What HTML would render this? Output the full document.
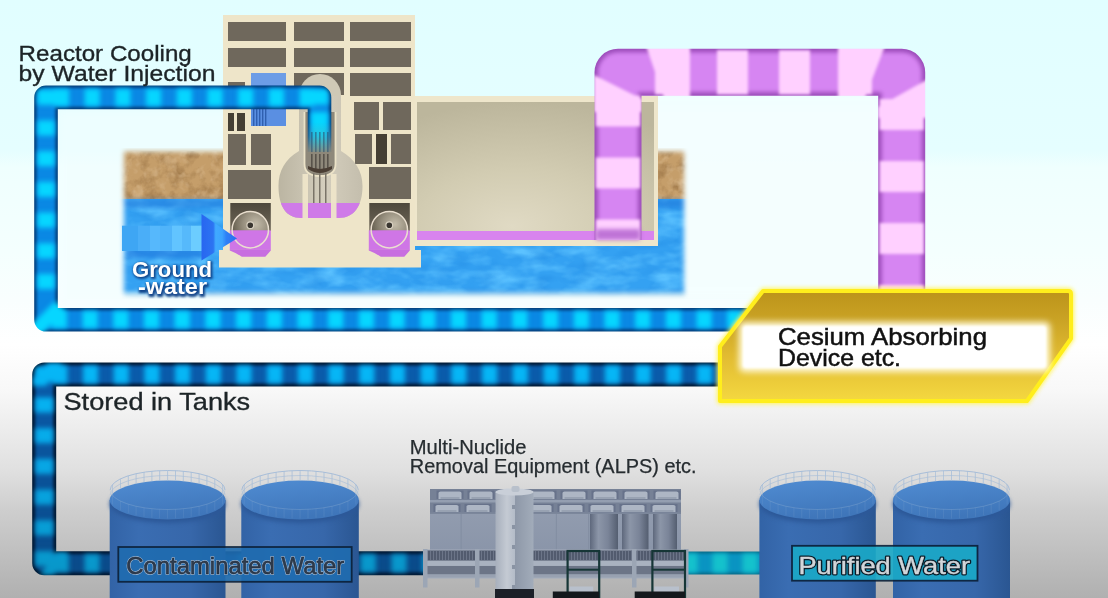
<!DOCTYPE html>
<html><head><meta charset="utf-8"><title>Contaminated Water Treatment</title>
<style>
html,body{margin:0;padding:0;width:1108px;height:598px;overflow:hidden;background:#e8f8fa;}
svg{display:block;font-family:"Liberation Sans", sans-serif;}
</style></head>
<body>
<svg width="1108" height="598" viewBox="0 0 1108 598">
<defs>
<linearGradient id="bg" x1="0" y1="0" x2="0" y2="1">
 <stop offset="0" stop-color="#e1feff"/>
 <stop offset="0.25" stop-color="#e5feff"/>
 <stop offset="0.28" stop-color="#effffe"/>
 <stop offset="0.42" stop-color="#f4fffe"/>
 <stop offset="0.502" stop-color="#f9fefe"/>
 <stop offset="0.577" stop-color="#ffffff"/>
 <stop offset="0.652" stop-color="#f8f8f8"/>
 <stop offset="0.719" stop-color="#ececec"/>
 <stop offset="0.786" stop-color="#e0e0e0"/>
 <stop offset="0.853" stop-color="#cecece"/>
 <stop offset="1" stop-color="#b0b0b0"/>
</linearGradient>
<filter id="b1" x="-20%" y="-20%" width="140%" height="140%"><feGaussianBlur stdDeviation="1"/></filter>
<filter id="b2" x="-20%" y="-20%" width="140%" height="140%"><feGaussianBlur stdDeviation="2"/></filter>
<filter id="b3" x="-20%" y="-20%" width="140%" height="140%"><feGaussianBlur stdDeviation="3"/></filter>
<filter id="b5" x="-20%" y="-20%" width="140%" height="140%"><feGaussianBlur stdDeviation="5"/></filter>
<filter id="soiltex" x="0" y="0" width="100%" height="100%" color-interpolation-filters="sRGB">
 <feTurbulence type="fractalNoise" baseFrequency="0.07" numOctaves="4" seed="4"/>
 <feColorMatrix type="matrix" values="0 0 0 0 0.60  0 0 0 0 0.45  0 0 0 0 0.27  -2.0 0 0 0 1.1"/>
 <feComposite in2="SourceGraphic" operator="in"/>
</filter>
<filter id="soiltex2" x="0" y="0" width="100%" height="100%" color-interpolation-filters="sRGB">
 <feTurbulence type="fractalNoise" baseFrequency="0.09" numOctaves="3" seed="9"/>
 <feColorMatrix type="matrix" values="0 0 0 0 0.86  0 0 0 0 0.74  0 0 0 0 0.58  1.8 0 0 0 -0.9"/>
 <feComposite in2="SourceGraphic" operator="in"/>
</filter>
<filter id="watertex" x="0" y="0" width="100%" height="100%" color-interpolation-filters="sRGB">
 <feTurbulence type="fractalNoise" baseFrequency="0.035 0.07" numOctaves="3" seed="11"/>
 <feColorMatrix type="matrix" values="0 0 0 0 0.36  0 0 0 0 0.76  0 0 0 0 1  2.2 0 0 0 -0.85"/>
 <feComposite in2="SourceGraphic" operator="in"/>
</filter>
<filter id="watertex2" x="0" y="0" width="100%" height="100%" color-interpolation-filters="sRGB">
 <feTurbulence type="fractalNoise" baseFrequency="0.04 0.08" numOctaves="2" seed="5"/>
 <feColorMatrix type="matrix" values="0 0 0 0 0.10  0 0 0 0 0.50  0 0 0 0 0.86  -1.4 0 0 0 0.80"/>
 <feComposite in2="SourceGraphic" operator="in"/>
</filter>
<mask id="groundMask" maskUnits="userSpaceOnUse" x="0" y="0" width="1108" height="598">
 <rect x="124" y="151.5" width="560" height="142" fill="#fff" style="filter:blur(2.4px)"/>
</mask>
<linearGradient id="tankBody" x1="0" y1="0" x2="1" y2="0">
 <stop offset="0" stop-color="#3263a6"/>
 <stop offset="0.25" stop-color="#3a6db2"/>
 <stop offset="0.7" stop-color="#3767aa"/>
 <stop offset="1" stop-color="#2a5692"/>
</linearGradient>
<linearGradient id="tankTop" x1="0" y1="0" x2="0.3" y2="1">
 <stop offset="0" stop-color="#508cd2"/>
 <stop offset="1" stop-color="#3f76ba"/>
</linearGradient>
<linearGradient id="yel" x1="0" y1="0" x2="0" y2="1">
 <stop offset="0" stop-color="#bc931a"/>
 <stop offset="0.25" stop-color="#c9a224"/>
 <stop offset="0.6" stop-color="#e2bc32"/>
 <stop offset="1" stop-color="#f4d840"/>
</linearGradient>
<radialGradient id="turb" cx="0.45" cy="0.95" r="0.95" fx="0.4" fy="0.9">
 <stop offset="0" stop-color="#e0dac4"/>
 <stop offset="0.45" stop-color="#d2ccb2"/>
 <stop offset="1" stop-color="#bcb69c"/>
</radialGradient>
<linearGradient id="alps" x1="0" y1="0" x2="0" y2="1">
 <stop offset="0" stop-color="#96a0b2"/>
 <stop offset="1" stop-color="#8a95a9"/>
</linearGradient>
<linearGradient id="col" x1="0" y1="0" x2="1" y2="0">
 <stop offset="0" stop-color="#a7afbc"/>
 <stop offset="0.3" stop-color="#c4cad3"/>
 <stop offset="0.5" stop-color="#b4bcc8"/>
 <stop offset="0.52" stop-color="#8e98a8"/>
 <stop offset="1" stop-color="#a2acba"/>
</linearGradient>
<linearGradient id="cyl" x1="0" y1="0" x2="1" y2="0">
 <stop offset="0" stop-color="#5e687c"/>
 <stop offset="0.3" stop-color="#8c96a8"/>
 <stop offset="0.65" stop-color="#7a8498"/>
 <stop offset="1" stop-color="#545e70"/>
</linearGradient>
<linearGradient id="arrowHead" x1="0" y1="0" x2="1" y2="0">
 <stop offset="0" stop-color="#2866f0"/>
 <stop offset="0.33" stop-color="#2c74f2"/>
 <stop offset="0.4" stop-color="#40aaff"/>
 <stop offset="0.58" stop-color="#3ca4ff"/>
 <stop offset="0.7" stop-color="#2e80f6"/>
 <stop offset="1" stop-color="#2a6cf2"/>
</linearGradient>
<linearGradient id="bulb" x1="0" y1="0" x2="1" y2="0">
 <stop offset="0" stop-color="#bbb5a2"/>
 <stop offset="0.55" stop-color="#d4cebd"/>
 <stop offset="1" stop-color="#c4bead"/>
</linearGradient>
<linearGradient id="torRoom" x1="0" y1="0" x2="0" y2="1">
 <stop offset="0" stop-color="#4e483c"/>
 <stop offset="1" stop-color="#6e6658"/>
</linearGradient>
<radialGradient id="torCone" cx="0.65" cy="0.35" r="0.7">
 <stop offset="0" stop-color="#c4bcaa"/>
 <stop offset="0.5" stop-color="#978f7e"/>
 <stop offset="1" stop-color="#5e5748"/>
</radialGradient>
<linearGradient id="llLight" gradientUnits="userSpaceOnUse" x1="0" y1="362" x2="0" y2="576">
 <stop offset="0" stop-color="#06b8f8"/>
 <stop offset="0.5" stop-color="#07a6e4"/>
 <stop offset="1" stop-color="#0896c8"/>
</linearGradient>
<linearGradient id="llMid" gradientUnits="userSpaceOnUse" x1="0" y1="362" x2="0" y2="576">
 <stop offset="0" stop-color="#0a5cac"/>
 <stop offset="1" stop-color="#0a4a88"/>
</linearGradient>
<linearGradient id="pipeFade" x1="0" y1="0" x2="0" y2="1">
 <stop offset="0" stop-color="#8e887a" stop-opacity="0"/>
 <stop offset="0.45" stop-color="#8e887a" stop-opacity="0.25"/>
 <stop offset="1" stop-color="#8e887a" stop-opacity="1"/>
</linearGradient>
<clipPath id="bulbClip"><path d="M299,96 L299,151 C285,159 278.5,171 278.5,186 C278.5,206 286,218 301,218 L339,218 C354,218 362.5,206 362.5,186 C362.5,171 355,159 341,151 L341,96 Z"/></clipPath>
</defs>
<rect x="0" y="0" width="1108" height="598" fill="url(#bg)"/>
<rect x="57" y="109" width="830" height="200" fill="#f3feff" opacity="0.6" style="filter:blur(4px)"/>
<rect x="640" y="94" width="240" height="200" fill="#f5ffff" opacity="0.8" style="filter:blur(3px)"/>
<g mask="url(#groundMask)">
<rect x="118" y="148" width="572" height="54" fill="#c59e6a"/>
<rect x="118" y="151" width="572" height="48" fill="#fff" filter="url(#soiltex)"/>
<rect x="118" y="151" width="572" height="48" fill="#fff" filter="url(#soiltex2)"/>
<rect x="118" y="199" width="572" height="100" fill="#34a1f2"/>
<rect x="118" y="199" width="572" height="100" fill="#fff" filter="url(#watertex)"/>
<rect x="118" y="199" width="572" height="100" fill="#fff" filter="url(#watertex2)" opacity="0.5"/>
<rect x="118" y="199" width="572" height="9" fill="#1f74d8" opacity="0.45" style="filter:blur(2px)"/>
</g>
<rect x="125" y="292" width="560" height="4" fill="#8fb8d0" opacity="0.25" style="filter:blur(2px)"/>
<rect x="414" y="96" width="244" height="150" fill="#eee6cb"/>
<rect x="417" y="102" width="237" height="138" fill="url(#turb)"/>
<rect x="417" y="231" width="237" height="9" fill="#d884ee"/>
<rect x="223" y="15" width="192" height="236" fill="#eee5c9"/>
<rect x="219" y="250" width="202" height="17.5" fill="#eee5c9"/>
<rect x="228" y="22" width="58" height="19" fill="#6f685c"/>
<rect x="294" y="22" width="50" height="19" fill="#6f685c"/>
<rect x="350" y="22" width="61" height="19" fill="#6f685c"/>
<rect x="228" y="48" width="58" height="19" fill="#6f685c"/>
<rect x="294" y="48" width="50" height="19" fill="#6f685c"/>
<rect x="350" y="48" width="61" height="19" fill="#6f685c"/>
<rect x="294" y="73" width="50" height="22" fill="#6f685c"/>
<rect x="350" y="73" width="61" height="23" fill="#6f685c"/>
<rect x="354" y="102" width="25" height="28" fill="#6f685c"/>
<rect x="383" y="102" width="28" height="28" fill="#6f685c"/>
<rect x="228" y="82" width="17" height="4" fill="#6f685c"/>
<rect x="228" y="113" width="6" height="18" fill="#6f685c"/>
<rect x="237" y="113" width="8" height="18" fill="#6f685c"/>
<rect x="228" y="134" width="18" height="31" fill="#6f685c"/>
<rect x="251" y="134" width="20" height="31" fill="#6f685c"/>
<rect x="228" y="170" width="43" height="29" fill="#6f685c"/>
<rect x="355" y="134" width="17" height="30" fill="#6f685c"/>
<rect x="376" y="134" width="11" height="30" fill="#6f685c"/>
<rect x="391" y="134" width="20" height="30" fill="#6f685c"/>
<rect x="369" y="167" width="42" height="32" fill="#6f685c"/>
<rect x="228" y="113" width="6" height="18" fill="#453f34"/>
<rect x="237" y="113" width="8" height="18" fill="#453f34"/>
<rect x="376" y="134" width="11" height="30" fill="#453f34"/>
<rect x="251" y="73" width="35" height="53" fill="#5a8fe2"/>
<rect x="251" y="73" width="35" height="12" fill="#7aa6ea" opacity="0.6"/>
<rect x="253" y="108" width="1.4" height="18" fill="#2f5fb0"/>
<rect x="256" y="108" width="1.4" height="18" fill="#2f5fb0"/>
<rect x="259" y="108" width="1.4" height="18" fill="#2f5fb0"/>
<rect x="262" y="108" width="1.4" height="18" fill="#2f5fb0"/>
<rect x="265" y="108" width="1.4" height="18" fill="#2f5fb0"/>
<circle cx="320" cy="95" r="21" fill="#cfc9b6"/>
<path d="M299,96 L299,151 C285,159 278.5,171 278.5,186 C278.5,206 286,218 301,218 L339,218 C354,218 362.5,206 362.5,186 C362.5,171 355,159 341,151 L341,96 Z" fill="url(#bulb)"/>
<g clip-path="url(#bulbClip)">
<rect x="275" y="203" width="92" height="20" fill="#cf7ae8"/>
<rect x="302.5" y="174" width="5.5" height="50" fill="#eee5c9" opacity="0.95"/>
<rect x="331" y="174" width="5.5" height="50" fill="#eee5c9" opacity="0.95"/>
</g>
<path d="M304.5,112 L304.5,164 Q304.5,176 320,176 Q335.5,176 335.5,164 L335.5,112" fill="#8e887a" stroke="#ece3c8" stroke-width="1.8"/>
<rect x="311" y="132" width="1.6" height="38" fill="#59534b"/>
<rect x="315" y="132" width="1.6" height="38" fill="#59534b"/>
<rect x="319" y="132" width="1.6" height="38" fill="#59534b"/>
<rect x="323" y="132" width="1.6" height="38" fill="#59534b"/>
<rect x="327" y="132" width="1.6" height="38" fill="#59534b"/>
<path d="M308,166 Q320,172 332,166 L332,169 Q320,177 308,169 Z" fill="#4a3e34"/>
<rect x="313" y="173" width="1.5" height="30" fill="#7a7468"/>
<rect x="319" y="173" width="1.5" height="30" fill="#7a7468"/>
<rect x="325" y="173" width="1.5" height="30" fill="#7a7468"/>
<rect x="230.3" y="203" width="40.5" height="28" fill="url(#torRoom)"/>
<circle cx="250.3" cy="229.7" r="18.2" fill="url(#torCone)"/>
<rect x="229.8" y="230.3" width="41" height="19.5" fill="#cf76e6"/>
<path d="M229.8,249.5 L270.8,249.5 L270.8,250.5 L265.3,256.8 L241.8,256.8 Q236.3,253 229.8,250.5 Z" fill="#c86ee0"/>
<circle cx="250.3" cy="229.7" r="18.2" fill="none" stroke="#eadfcf" stroke-width="1.5"/>
<circle cx="250.3" cy="225.3" r="3.4" fill="#3a3630" stroke="#d8d0c0" stroke-width="1.2"/>
<rect x="369.3" y="203" width="40.5" height="28" fill="url(#torRoom)"/>
<circle cx="389.3" cy="229.7" r="18.2" fill="url(#torCone)"/>
<rect x="368.8" y="230.3" width="41" height="19.5" fill="#cf76e6"/>
<path d="M368.8,249.5 L409.8,249.5 L409.8,250.5 L404.3,256.8 L380.8,256.8 Q375.3,253 368.8,250.5 Z" fill="#c86ee0"/>
<circle cx="389.3" cy="229.7" r="18.2" fill="none" stroke="#eadfcf" stroke-width="1.5"/>
<circle cx="389.3" cy="225.3" r="3.4" fill="#3a3630" stroke="#d8d0c0" stroke-width="1.2"/>
<rect x="126" y="249" width="76" height="9" fill="#1f74dc" opacity="0.55" style="filter:blur(2px)"/>
<g style="filter:blur(0.7px)">
<rect x="122" y="225.7" width="16.5" height="25.3" fill="#3ea6f4"/>
<rect x="138" y="225.7" width="12.5" height="25.3" fill="#4aaef8"/>
<rect x="150" y="225.7" width="10.5" height="25.3" fill="#56b8fc"/>
<rect x="160" y="225.7" width="12.5" height="25.3" fill="#50b4fa"/>
<rect x="172" y="225.7" width="10.5" height="25.3" fill="#62c4ff"/>
<rect x="182" y="225.7" width="9.5" height="25.3" fill="#56b9fb"/>
<rect x="191" y="225.7" width="11.0" height="25.3" fill="#6ccdff"/>
<polygon points="201.5,214 237,238.4 201.5,260.5" fill="url(#arrowHead)"/>
</g>
<mask id="pm1" maskUnits="userSpaceOnUse" x="0" y="0" width="1108" height="598"><path d="M319.5,152 L319.5,97.4 L46,97.4 L46,319.8 L760,319.8" fill="none" stroke="#fff" stroke-width="23.6" stroke-linejoin="round" stroke-linecap="butt"/></mask>
<g mask="url(#pm1)">
<path d="M319.5,152 L319.5,97.4 L46,97.4 L46,319.8 L760,319.8" fill="none" stroke="#053f7c" stroke-width="25.6" stroke-linejoin="round" stroke-linecap="butt"/>
<path d="M319.5,152 L319.5,97.4 L46,97.4 L46,319.8 L760,319.8" fill="none" stroke="#0a88e4" stroke-width="18.6" stroke-linejoin="round" stroke-linecap="butt" style="filter:blur(1.6px)"/>
<g fill="#06d6ff" style="filter:blur(2.6px)"><rect x="54.0" y="89.0" width="15" height="17"/><rect x="84.7" y="89.0" width="15" height="17"/><rect x="115.4" y="89.0" width="15" height="17"/><rect x="146.1" y="89.0" width="15" height="17"/><rect x="176.8" y="89.0" width="15" height="17"/><rect x="207.5" y="89.0" width="15" height="17"/><rect x="238.2" y="89.0" width="15" height="17"/><rect x="268.9" y="89.0" width="15" height="17"/><rect x="299.6" y="89.0" width="15" height="17"/><rect x="37.5" y="89.8" width="17" height="15"/><rect x="37.5" y="120.5" width="17" height="15"/><rect x="37.5" y="151.2" width="17" height="15"/><rect x="37.5" y="181.9" width="17" height="15"/><rect x="37.5" y="212.6" width="17" height="15"/><rect x="37.5" y="243.3" width="17" height="15"/><rect x="37.5" y="274.0" width="17" height="15"/><rect x="39" y="300" width="14" height="40" transform="rotate(45 46 320)"/><rect x="51.9" y="311.0" width="15" height="17"/><rect x="82.6" y="311.0" width="15" height="17"/><rect x="113.3" y="311.0" width="15" height="17"/><rect x="144.0" y="311.0" width="15" height="17"/><rect x="174.7" y="311.0" width="15" height="17"/><rect x="205.4" y="311.0" width="15" height="17"/><rect x="236.1" y="311.0" width="15" height="17"/><rect x="266.8" y="311.0" width="15" height="17"/><rect x="297.5" y="311.0" width="15" height="17"/><rect x="328.2" y="311.0" width="15" height="17"/><rect x="358.9" y="311.0" width="15" height="17"/><rect x="389.6" y="311.0" width="15" height="17"/><rect x="420.3" y="311.0" width="15" height="17"/><rect x="451.0" y="311.0" width="15" height="17"/><rect x="481.7" y="311.0" width="15" height="17"/><rect x="512.4" y="311.0" width="15" height="17"/><rect x="543.1" y="311.0" width="15" height="17"/><rect x="573.8" y="311.0" width="15" height="17"/><rect x="604.5" y="311.0" width="15" height="17"/><rect x="635.2" y="311.0" width="15" height="17"/><rect x="665.9" y="311.0" width="15" height="17"/><rect x="696.6" y="311.0" width="15" height="17"/><rect x="727.3" y="311.0" width="15" height="17"/><rect x="758.0" y="311.0" width="15" height="17"/><rect x="311.0" y="89.5" width="17" height="15"/><rect x="311.0" y="120.5" width="17" height="15"/><rect x="311.0" y="151.5" width="17" height="15"/><rect x="311" y="112" width="17" height="40"/></g>
</g>
<rect x="307" y="122" width="26" height="32" fill="url(#pipeFade)"/>
<rect x="311" y="132" width="1.6" height="20" fill="#2a4a6a" opacity="0.55"/>
<rect x="315" y="132" width="1.6" height="20" fill="#2a4a6a" opacity="0.55"/>
<rect x="319" y="132" width="1.6" height="20" fill="#2a4a6a" opacity="0.55"/>
<rect x="323" y="132" width="1.6" height="20" fill="#2a4a6a" opacity="0.55"/>
<rect x="327" y="132" width="1.6" height="20" fill="#2a4a6a" opacity="0.55"/>
<mask id="pm2" maskUnits="userSpaceOnUse" x="0" y="0" width="1108" height="598"><path d="M760,374.5 L44.2,374.5 L44.2,563.2 L430,563.2" fill="none" stroke="#fff" stroke-width="24" stroke-linejoin="round" stroke-linecap="butt"/></mask>
<g mask="url(#pm2)">
<path d="M760,374.5 L44.2,374.5 L44.2,563.2 L430,563.2" fill="none" stroke="#021a36" stroke-width="26" stroke-linejoin="round" stroke-linecap="butt"/>
<path d="M760,374.5 L44.2,374.5 L44.2,563.2 L430,563.2" fill="none" stroke="url(#llMid)" stroke-width="18" stroke-linejoin="round" stroke-linecap="butt" style="filter:blur(1.6px)"/>
<g fill="url(#llLight)" style="filter:blur(2.6px)"><rect x="52.3" y="365.5" width="15" height="18"/><rect x="83.0" y="365.5" width="15" height="18"/><rect x="113.7" y="365.5" width="15" height="18"/><rect x="144.4" y="365.5" width="15" height="18"/><rect x="175.1" y="365.5" width="15" height="18"/><rect x="205.8" y="365.5" width="15" height="18"/><rect x="236.5" y="365.5" width="15" height="18"/><rect x="267.2" y="365.5" width="15" height="18"/><rect x="297.9" y="365.5" width="15" height="18"/><rect x="328.6" y="365.5" width="15" height="18"/><rect x="359.3" y="365.5" width="15" height="18"/><rect x="390.0" y="365.5" width="15" height="18"/><rect x="420.7" y="365.5" width="15" height="18"/><rect x="451.4" y="365.5" width="15" height="18"/><rect x="482.1" y="365.5" width="15" height="18"/><rect x="512.8" y="365.5" width="15" height="18"/><rect x="543.5" y="365.5" width="15" height="18"/><rect x="574.2" y="365.5" width="15" height="18"/><rect x="604.9" y="365.5" width="15" height="18"/><rect x="635.6" y="365.5" width="15" height="18"/><rect x="666.3" y="365.5" width="15" height="18"/><rect x="697.0" y="365.5" width="15" height="18"/><rect x="727.7" y="365.5" width="15" height="18"/><rect x="758.4" y="365.5" width="15" height="18"/><rect x="35.2" y="366.8" width="18" height="15"/><rect x="35.2" y="397.5" width="18" height="15"/><rect x="35.2" y="428.2" width="18" height="15"/><rect x="35.2" y="458.9" width="18" height="15"/><rect x="35.2" y="489.6" width="18" height="15"/><rect x="35.2" y="520.3" width="18" height="15"/><rect x="35.2" y="551.0" width="18" height="15"/><rect x="53.8" y="554.2" width="15" height="18"/><rect x="84.5" y="554.2" width="15" height="18"/><rect x="115.2" y="554.2" width="15" height="18"/><rect x="145.9" y="554.2" width="15" height="18"/><rect x="176.6" y="554.2" width="15" height="18"/><rect x="207.3" y="554.2" width="15" height="18"/><rect x="238.0" y="554.2" width="15" height="18"/><rect x="268.7" y="554.2" width="15" height="18"/><rect x="299.4" y="554.2" width="15" height="18"/><rect x="330.1" y="554.2" width="15" height="18"/><rect x="360.8" y="554.2" width="15" height="18"/><rect x="391.5" y="554.2" width="15" height="18"/><rect x="422.2" y="554.2" width="15" height="18"/><polygon points="33,378 48,363 62,363 46,386 33,386"/><polygon points="40,575 56,552 68,552 54,575"/></g>
</g>
<mask id="pm3" maskUnits="userSpaceOnUse" x="0" y="0" width="1108" height="598"><path d="M680,563 L770,563" fill="none" stroke="#fff" stroke-width="23" stroke-linejoin="round" stroke-linecap="butt"/></mask>
<g mask="url(#pm3)">
<path d="M680,563 L770,563" fill="none" stroke="#066a88" stroke-width="25" stroke-linejoin="round" stroke-linecap="butt"/>
<path d="M680,563 L770,563" fill="none" stroke="#0a94c2" stroke-width="19" stroke-linejoin="round" stroke-linecap="butt" style="filter:blur(1.6px)"/>
<g fill="#14c2cc" style="filter:blur(2.6px)"><rect x="682.5" y="553.5" width="15" height="19"/><rect x="712.5" y="553.5" width="15" height="19"/><rect x="742.5" y="553.5" width="15" height="19"/></g>
</g>
<mask id="pm4" maskUnits="userSpaceOnUse" x="0" y="0" width="1108" height="598"><path d="M618,240 L618,72.3 L901.7,72.3 L901.7,300" fill="none" stroke="#fff" stroke-width="47" stroke-linejoin="round" stroke-linecap="butt"/></mask>
<g mask="url(#pm4)">
<path d="M618,240 L618,72.3 L901.7,72.3 L901.7,300" fill="none" stroke="#9c4cba" stroke-width="49" stroke-linejoin="round" stroke-linecap="butt"/>
<path d="M618,240 L618,72.3 L901.7,72.3 L901.7,300" fill="none" stroke="#d685f2" stroke-width="40" stroke-linejoin="round" stroke-linecap="butt" style="filter:blur(2.2px)"/>
<g fill="#ffd0ff" style="filter:blur(1.8px)"><rect x="655.0" y="50.3" width="31" height="44"/><rect x="717.0" y="50.3" width="31" height="44"/><rect x="779.0" y="50.3" width="31" height="44"/><rect x="841.0" y="50.3" width="31" height="44"/><rect x="879.7" y="99.0" width="44" height="31"/><rect x="879.7" y="161.0" width="44" height="31"/><rect x="879.7" y="223.0" width="44" height="31"/><rect x="879.7" y="285.0" width="44" height="31"/><rect x="596.0" y="95.5" width="44" height="31"/><rect x="596.0" y="157.5" width="44" height="31"/><rect x="596.0" y="219.5" width="44" height="31"/><polygon points="594,75 642,99 642,112 594,112"/><polygon points="646,46 690,46 690,98 664,98"/><polygon points="878,107 928,79 928,118 878,118"/><polygon points="838,46 885,46 865,98 838,98"/></g>
</g>
<rect x="596" y="229" width="44" height="11" fill="#b464d0" opacity="0.85" style="filter:blur(2px)"/>
<path d="M763,291 L1068,291 Q1071,291 1071,294 L1071,338.5 L1027,401 L720,401 L720,346.5 Z" fill="#fff45a" stroke="#fff45a" stroke-width="6" stroke-linejoin="round" style="filter:blur(2px)"/>
<path d="M763,291 L1068,291 Q1071,291 1071,294 L1071,338.5 L1027,401 L720,401 L720,346.5 Z" fill="url(#yel)" stroke="#ffee1c" stroke-width="4" stroke-linejoin="round"/>
<rect x="739" y="322" width="311" height="50" rx="5" fill="#fffbe0" style="filter:blur(3px)"/>
<rect x="743" y="326" width="303" height="42" rx="3" fill="#ffffff" style="filter:blur(1px)"/>
<rect x="109.7" y="500" width="115.8" height="100" fill="url(#tankBody)"/>
<ellipse cx="167.6" cy="504" rx="57.9" ry="19" fill="#2c5898" style="filter:blur(2px)"/>
<ellipse cx="167.6" cy="500" rx="57.9" ry="19.5" fill="url(#tankTop)"/>
<path d="M110.19999999999999,490 A57.4,19.5 0 0 1 225.0,490" fill="none" stroke="#a4bcd8" stroke-width="1" opacity="0.95"/>
<path d="M110.19999999999999,495 A57.4,19.5 0 0 1 225.0,495" fill="none" stroke="#a4bcd8" stroke-width="0.8" opacity="0.75"/>
<path d="M110.19999999999999,490 A57.4,19.5 0 0 0 225.0,490" fill="none" stroke="#a4bcd8" stroke-width="0.8" opacity="0.35"/>
<line x1="112.6" y1="484.5" x2="112.6" y2="494.5" stroke="#a4bcd8" stroke-width="0.8" opacity="0.95"/>
<line x1="112.6" y1="495.5" x2="112.6" y2="504.5" stroke="#a4bcd8" stroke-width="0.6" opacity="0.22"/>
<line x1="120.4" y1="478.9" x2="120.4" y2="488.9" stroke="#a4bcd8" stroke-width="0.8" opacity="0.95"/>
<line x1="120.4" y1="501.1" x2="120.4" y2="510.1" stroke="#a4bcd8" stroke-width="0.6" opacity="0.22"/>
<line x1="128.3" y1="475.8" x2="128.3" y2="485.8" stroke="#a4bcd8" stroke-width="0.8" opacity="0.95"/>
<line x1="128.3" y1="504.2" x2="128.3" y2="513.2" stroke="#a4bcd8" stroke-width="0.6" opacity="0.22"/>
<line x1="136.1" y1="473.7" x2="136.1" y2="483.7" stroke="#a4bcd8" stroke-width="0.8" opacity="0.95"/>
<line x1="136.1" y1="506.3" x2="136.1" y2="515.3" stroke="#a4bcd8" stroke-width="0.6" opacity="0.22"/>
<line x1="144.0" y1="472.2" x2="144.0" y2="482.2" stroke="#a4bcd8" stroke-width="0.8" opacity="0.95"/>
<line x1="144.0" y1="507.8" x2="144.0" y2="516.8" stroke="#a4bcd8" stroke-width="0.6" opacity="0.22"/>
<line x1="151.9" y1="471.2" x2="151.9" y2="481.2" stroke="#a4bcd8" stroke-width="0.8" opacity="0.95"/>
<line x1="151.9" y1="508.8" x2="151.9" y2="517.8" stroke="#a4bcd8" stroke-width="0.6" opacity="0.22"/>
<line x1="159.7" y1="470.7" x2="159.7" y2="480.7" stroke="#a4bcd8" stroke-width="0.8" opacity="0.95"/>
<line x1="159.7" y1="509.3" x2="159.7" y2="518.3" stroke="#a4bcd8" stroke-width="0.6" opacity="0.22"/>
<line x1="167.6" y1="470.5" x2="167.6" y2="480.5" stroke="#a4bcd8" stroke-width="0.8" opacity="0.95"/>
<line x1="167.6" y1="509.5" x2="167.6" y2="518.5" stroke="#a4bcd8" stroke-width="0.6" opacity="0.22"/>
<line x1="175.5" y1="470.7" x2="175.5" y2="480.7" stroke="#a4bcd8" stroke-width="0.8" opacity="0.95"/>
<line x1="175.5" y1="509.3" x2="175.5" y2="518.3" stroke="#a4bcd8" stroke-width="0.6" opacity="0.22"/>
<line x1="183.3" y1="471.2" x2="183.3" y2="481.2" stroke="#a4bcd8" stroke-width="0.8" opacity="0.95"/>
<line x1="183.3" y1="508.8" x2="183.3" y2="517.8" stroke="#a4bcd8" stroke-width="0.6" opacity="0.22"/>
<line x1="191.2" y1="472.2" x2="191.2" y2="482.2" stroke="#a4bcd8" stroke-width="0.8" opacity="0.95"/>
<line x1="191.2" y1="507.8" x2="191.2" y2="516.8" stroke="#a4bcd8" stroke-width="0.6" opacity="0.22"/>
<line x1="199.1" y1="473.7" x2="199.1" y2="483.7" stroke="#a4bcd8" stroke-width="0.8" opacity="0.95"/>
<line x1="199.1" y1="506.3" x2="199.1" y2="515.3" stroke="#a4bcd8" stroke-width="0.6" opacity="0.22"/>
<line x1="206.9" y1="475.8" x2="206.9" y2="485.8" stroke="#a4bcd8" stroke-width="0.8" opacity="0.95"/>
<line x1="206.9" y1="504.2" x2="206.9" y2="513.2" stroke="#a4bcd8" stroke-width="0.6" opacity="0.22"/>
<line x1="214.8" y1="478.9" x2="214.8" y2="488.9" stroke="#a4bcd8" stroke-width="0.8" opacity="0.95"/>
<line x1="214.8" y1="501.1" x2="214.8" y2="510.1" stroke="#a4bcd8" stroke-width="0.6" opacity="0.22"/>
<line x1="222.6" y1="484.5" x2="222.6" y2="494.5" stroke="#a4bcd8" stroke-width="0.8" opacity="0.95"/>
<line x1="222.6" y1="495.5" x2="222.6" y2="504.5" stroke="#a4bcd8" stroke-width="0.6" opacity="0.22"/>
<rect x="241.3" y="500" width="117.5" height="100" fill="url(#tankBody)"/>
<ellipse cx="300.05" cy="504" rx="58.75" ry="19" fill="#2c5898" style="filter:blur(2px)"/>
<ellipse cx="300.05" cy="500" rx="58.75" ry="19.5" fill="url(#tankTop)"/>
<path d="M241.8,490 A58.25,19.5 0 0 1 358.3,490" fill="none" stroke="#a4bcd8" stroke-width="1" opacity="0.95"/>
<path d="M241.8,495 A58.25,19.5 0 0 1 358.3,495" fill="none" stroke="#a4bcd8" stroke-width="0.8" opacity="0.75"/>
<path d="M241.8,490 A58.25,19.5 0 0 0 358.3,490" fill="none" stroke="#a4bcd8" stroke-width="0.8" opacity="0.35"/>
<line x1="244.2" y1="484.5" x2="244.2" y2="494.5" stroke="#a4bcd8" stroke-width="0.8" opacity="0.95"/>
<line x1="244.2" y1="495.5" x2="244.2" y2="504.5" stroke="#a4bcd8" stroke-width="0.6" opacity="0.22"/>
<line x1="252.2" y1="478.9" x2="252.2" y2="488.9" stroke="#a4bcd8" stroke-width="0.8" opacity="0.95"/>
<line x1="252.2" y1="501.1" x2="252.2" y2="510.1" stroke="#a4bcd8" stroke-width="0.6" opacity="0.22"/>
<line x1="260.2" y1="475.8" x2="260.2" y2="485.8" stroke="#a4bcd8" stroke-width="0.8" opacity="0.95"/>
<line x1="260.2" y1="504.2" x2="260.2" y2="513.2" stroke="#a4bcd8" stroke-width="0.6" opacity="0.22"/>
<line x1="268.1" y1="473.7" x2="268.1" y2="483.7" stroke="#a4bcd8" stroke-width="0.8" opacity="0.95"/>
<line x1="268.1" y1="506.3" x2="268.1" y2="515.3" stroke="#a4bcd8" stroke-width="0.6" opacity="0.22"/>
<line x1="276.1" y1="472.2" x2="276.1" y2="482.2" stroke="#a4bcd8" stroke-width="0.8" opacity="0.95"/>
<line x1="276.1" y1="507.8" x2="276.1" y2="516.8" stroke="#a4bcd8" stroke-width="0.6" opacity="0.22"/>
<line x1="284.1" y1="471.2" x2="284.1" y2="481.2" stroke="#a4bcd8" stroke-width="0.8" opacity="0.95"/>
<line x1="284.1" y1="508.8" x2="284.1" y2="517.8" stroke="#a4bcd8" stroke-width="0.6" opacity="0.22"/>
<line x1="292.1" y1="470.7" x2="292.1" y2="480.7" stroke="#a4bcd8" stroke-width="0.8" opacity="0.95"/>
<line x1="292.1" y1="509.3" x2="292.1" y2="518.3" stroke="#a4bcd8" stroke-width="0.6" opacity="0.22"/>
<line x1="300.1" y1="470.5" x2="300.1" y2="480.5" stroke="#a4bcd8" stroke-width="0.8" opacity="0.95"/>
<line x1="300.1" y1="509.5" x2="300.1" y2="518.5" stroke="#a4bcd8" stroke-width="0.6" opacity="0.22"/>
<line x1="308.0" y1="470.7" x2="308.0" y2="480.7" stroke="#a4bcd8" stroke-width="0.8" opacity="0.95"/>
<line x1="308.0" y1="509.3" x2="308.0" y2="518.3" stroke="#a4bcd8" stroke-width="0.6" opacity="0.22"/>
<line x1="316.0" y1="471.2" x2="316.0" y2="481.2" stroke="#a4bcd8" stroke-width="0.8" opacity="0.95"/>
<line x1="316.0" y1="508.8" x2="316.0" y2="517.8" stroke="#a4bcd8" stroke-width="0.6" opacity="0.22"/>
<line x1="324.0" y1="472.2" x2="324.0" y2="482.2" stroke="#a4bcd8" stroke-width="0.8" opacity="0.95"/>
<line x1="324.0" y1="507.8" x2="324.0" y2="516.8" stroke="#a4bcd8" stroke-width="0.6" opacity="0.22"/>
<line x1="332.0" y1="473.7" x2="332.0" y2="483.7" stroke="#a4bcd8" stroke-width="0.8" opacity="0.95"/>
<line x1="332.0" y1="506.3" x2="332.0" y2="515.3" stroke="#a4bcd8" stroke-width="0.6" opacity="0.22"/>
<line x1="339.9" y1="475.8" x2="339.9" y2="485.8" stroke="#a4bcd8" stroke-width="0.8" opacity="0.95"/>
<line x1="339.9" y1="504.2" x2="339.9" y2="513.2" stroke="#a4bcd8" stroke-width="0.6" opacity="0.22"/>
<line x1="347.9" y1="478.9" x2="347.9" y2="488.9" stroke="#a4bcd8" stroke-width="0.8" opacity="0.95"/>
<line x1="347.9" y1="501.1" x2="347.9" y2="510.1" stroke="#a4bcd8" stroke-width="0.6" opacity="0.22"/>
<line x1="355.9" y1="484.5" x2="355.9" y2="494.5" stroke="#a4bcd8" stroke-width="0.8" opacity="0.95"/>
<line x1="355.9" y1="495.5" x2="355.9" y2="504.5" stroke="#a4bcd8" stroke-width="0.6" opacity="0.22"/>
<rect x="759.4" y="500" width="116.39999999999998" height="100" fill="url(#tankBody)"/>
<ellipse cx="817.5999999999999" cy="504" rx="58.19999999999999" ry="19" fill="#2c5898" style="filter:blur(2px)"/>
<ellipse cx="817.5999999999999" cy="500" rx="58.19999999999999" ry="19.5" fill="url(#tankTop)"/>
<path d="M759.8999999999999,490 A57.69999999999999,19.5 0 0 1 875.3,490" fill="none" stroke="#a4bcd8" stroke-width="1" opacity="0.95"/>
<path d="M759.8999999999999,495 A57.69999999999999,19.5 0 0 1 875.3,495" fill="none" stroke="#a4bcd8" stroke-width="0.8" opacity="0.75"/>
<path d="M759.8999999999999,490 A57.69999999999999,19.5 0 0 0 875.3,490" fill="none" stroke="#a4bcd8" stroke-width="0.8" opacity="0.35"/>
<line x1="762.3" y1="484.5" x2="762.3" y2="494.5" stroke="#a4bcd8" stroke-width="0.8" opacity="0.95"/>
<line x1="762.3" y1="495.5" x2="762.3" y2="504.5" stroke="#a4bcd8" stroke-width="0.6" opacity="0.22"/>
<line x1="770.2" y1="478.9" x2="770.2" y2="488.9" stroke="#a4bcd8" stroke-width="0.8" opacity="0.95"/>
<line x1="770.2" y1="501.1" x2="770.2" y2="510.1" stroke="#a4bcd8" stroke-width="0.6" opacity="0.22"/>
<line x1="778.1" y1="475.8" x2="778.1" y2="485.8" stroke="#a4bcd8" stroke-width="0.8" opacity="0.95"/>
<line x1="778.1" y1="504.2" x2="778.1" y2="513.2" stroke="#a4bcd8" stroke-width="0.6" opacity="0.22"/>
<line x1="786.0" y1="473.7" x2="786.0" y2="483.7" stroke="#a4bcd8" stroke-width="0.8" opacity="0.95"/>
<line x1="786.0" y1="506.3" x2="786.0" y2="515.3" stroke="#a4bcd8" stroke-width="0.6" opacity="0.22"/>
<line x1="793.9" y1="472.2" x2="793.9" y2="482.2" stroke="#a4bcd8" stroke-width="0.8" opacity="0.95"/>
<line x1="793.9" y1="507.8" x2="793.9" y2="516.8" stroke="#a4bcd8" stroke-width="0.6" opacity="0.22"/>
<line x1="801.8" y1="471.2" x2="801.8" y2="481.2" stroke="#a4bcd8" stroke-width="0.8" opacity="0.95"/>
<line x1="801.8" y1="508.8" x2="801.8" y2="517.8" stroke="#a4bcd8" stroke-width="0.6" opacity="0.22"/>
<line x1="809.7" y1="470.7" x2="809.7" y2="480.7" stroke="#a4bcd8" stroke-width="0.8" opacity="0.95"/>
<line x1="809.7" y1="509.3" x2="809.7" y2="518.3" stroke="#a4bcd8" stroke-width="0.6" opacity="0.22"/>
<line x1="817.6" y1="470.5" x2="817.6" y2="480.5" stroke="#a4bcd8" stroke-width="0.8" opacity="0.95"/>
<line x1="817.6" y1="509.5" x2="817.6" y2="518.5" stroke="#a4bcd8" stroke-width="0.6" opacity="0.22"/>
<line x1="825.5" y1="470.7" x2="825.5" y2="480.7" stroke="#a4bcd8" stroke-width="0.8" opacity="0.95"/>
<line x1="825.5" y1="509.3" x2="825.5" y2="518.3" stroke="#a4bcd8" stroke-width="0.6" opacity="0.22"/>
<line x1="833.4" y1="471.2" x2="833.4" y2="481.2" stroke="#a4bcd8" stroke-width="0.8" opacity="0.95"/>
<line x1="833.4" y1="508.8" x2="833.4" y2="517.8" stroke="#a4bcd8" stroke-width="0.6" opacity="0.22"/>
<line x1="841.3" y1="472.2" x2="841.3" y2="482.2" stroke="#a4bcd8" stroke-width="0.8" opacity="0.95"/>
<line x1="841.3" y1="507.8" x2="841.3" y2="516.8" stroke="#a4bcd8" stroke-width="0.6" opacity="0.22"/>
<line x1="849.2" y1="473.7" x2="849.2" y2="483.7" stroke="#a4bcd8" stroke-width="0.8" opacity="0.95"/>
<line x1="849.2" y1="506.3" x2="849.2" y2="515.3" stroke="#a4bcd8" stroke-width="0.6" opacity="0.22"/>
<line x1="857.1" y1="475.8" x2="857.1" y2="485.8" stroke="#a4bcd8" stroke-width="0.8" opacity="0.95"/>
<line x1="857.1" y1="504.2" x2="857.1" y2="513.2" stroke="#a4bcd8" stroke-width="0.6" opacity="0.22"/>
<line x1="865.0" y1="478.9" x2="865.0" y2="488.9" stroke="#a4bcd8" stroke-width="0.8" opacity="0.95"/>
<line x1="865.0" y1="501.1" x2="865.0" y2="510.1" stroke="#a4bcd8" stroke-width="0.6" opacity="0.22"/>
<line x1="872.9" y1="484.5" x2="872.9" y2="494.5" stroke="#a4bcd8" stroke-width="0.8" opacity="0.95"/>
<line x1="872.9" y1="495.5" x2="872.9" y2="504.5" stroke="#a4bcd8" stroke-width="0.6" opacity="0.22"/>
<rect x="893" y="500" width="117" height="100" fill="url(#tankBody)"/>
<ellipse cx="951.5" cy="504" rx="58.5" ry="19" fill="#2c5898" style="filter:blur(2px)"/>
<ellipse cx="951.5" cy="500" rx="58.5" ry="19.5" fill="url(#tankTop)"/>
<path d="M893.5,490 A58.0,19.5 0 0 1 1009.5,490" fill="none" stroke="#a4bcd8" stroke-width="1" opacity="0.95"/>
<path d="M893.5,495 A58.0,19.5 0 0 1 1009.5,495" fill="none" stroke="#a4bcd8" stroke-width="0.8" opacity="0.75"/>
<path d="M893.5,490 A58.0,19.5 0 0 0 1009.5,490" fill="none" stroke="#a4bcd8" stroke-width="0.8" opacity="0.35"/>
<line x1="895.9" y1="484.5" x2="895.9" y2="494.5" stroke="#a4bcd8" stroke-width="0.8" opacity="0.95"/>
<line x1="895.9" y1="495.5" x2="895.9" y2="504.5" stroke="#a4bcd8" stroke-width="0.6" opacity="0.22"/>
<line x1="903.8" y1="478.9" x2="903.8" y2="488.9" stroke="#a4bcd8" stroke-width="0.8" opacity="0.95"/>
<line x1="903.8" y1="501.1" x2="903.8" y2="510.1" stroke="#a4bcd8" stroke-width="0.6" opacity="0.22"/>
<line x1="911.8" y1="475.8" x2="911.8" y2="485.8" stroke="#a4bcd8" stroke-width="0.8" opacity="0.95"/>
<line x1="911.8" y1="504.2" x2="911.8" y2="513.2" stroke="#a4bcd8" stroke-width="0.6" opacity="0.22"/>
<line x1="919.7" y1="473.7" x2="919.7" y2="483.7" stroke="#a4bcd8" stroke-width="0.8" opacity="0.95"/>
<line x1="919.7" y1="506.3" x2="919.7" y2="515.3" stroke="#a4bcd8" stroke-width="0.6" opacity="0.22"/>
<line x1="927.7" y1="472.2" x2="927.7" y2="482.2" stroke="#a4bcd8" stroke-width="0.8" opacity="0.95"/>
<line x1="927.7" y1="507.8" x2="927.7" y2="516.8" stroke="#a4bcd8" stroke-width="0.6" opacity="0.22"/>
<line x1="935.6" y1="471.2" x2="935.6" y2="481.2" stroke="#a4bcd8" stroke-width="0.8" opacity="0.95"/>
<line x1="935.6" y1="508.8" x2="935.6" y2="517.8" stroke="#a4bcd8" stroke-width="0.6" opacity="0.22"/>
<line x1="943.6" y1="470.7" x2="943.6" y2="480.7" stroke="#a4bcd8" stroke-width="0.8" opacity="0.95"/>
<line x1="943.6" y1="509.3" x2="943.6" y2="518.3" stroke="#a4bcd8" stroke-width="0.6" opacity="0.22"/>
<line x1="951.5" y1="470.5" x2="951.5" y2="480.5" stroke="#a4bcd8" stroke-width="0.8" opacity="0.95"/>
<line x1="951.5" y1="509.5" x2="951.5" y2="518.5" stroke="#a4bcd8" stroke-width="0.6" opacity="0.22"/>
<line x1="959.4" y1="470.7" x2="959.4" y2="480.7" stroke="#a4bcd8" stroke-width="0.8" opacity="0.95"/>
<line x1="959.4" y1="509.3" x2="959.4" y2="518.3" stroke="#a4bcd8" stroke-width="0.6" opacity="0.22"/>
<line x1="967.4" y1="471.2" x2="967.4" y2="481.2" stroke="#a4bcd8" stroke-width="0.8" opacity="0.95"/>
<line x1="967.4" y1="508.8" x2="967.4" y2="517.8" stroke="#a4bcd8" stroke-width="0.6" opacity="0.22"/>
<line x1="975.3" y1="472.2" x2="975.3" y2="482.2" stroke="#a4bcd8" stroke-width="0.8" opacity="0.95"/>
<line x1="975.3" y1="507.8" x2="975.3" y2="516.8" stroke="#a4bcd8" stroke-width="0.6" opacity="0.22"/>
<line x1="983.3" y1="473.7" x2="983.3" y2="483.7" stroke="#a4bcd8" stroke-width="0.8" opacity="0.95"/>
<line x1="983.3" y1="506.3" x2="983.3" y2="515.3" stroke="#a4bcd8" stroke-width="0.6" opacity="0.22"/>
<line x1="991.2" y1="475.8" x2="991.2" y2="485.8" stroke="#a4bcd8" stroke-width="0.8" opacity="0.95"/>
<line x1="991.2" y1="504.2" x2="991.2" y2="513.2" stroke="#a4bcd8" stroke-width="0.6" opacity="0.22"/>
<line x1="999.2" y1="478.9" x2="999.2" y2="488.9" stroke="#a4bcd8" stroke-width="0.8" opacity="0.95"/>
<line x1="999.2" y1="501.1" x2="999.2" y2="510.1" stroke="#a4bcd8" stroke-width="0.6" opacity="0.22"/>
<line x1="1007.1" y1="484.5" x2="1007.1" y2="494.5" stroke="#a4bcd8" stroke-width="0.8" opacity="0.95"/>
<line x1="1007.1" y1="495.5" x2="1007.1" y2="504.5" stroke="#a4bcd8" stroke-width="0.6" opacity="0.22"/>
<rect x="430" y="489" width="251" height="62" fill="url(#alps)"/>
<rect x="430" y="489" width="251" height="11" fill="#768196"/>
<rect x="436.5" y="490.5" width="27" height="8.5" fill="#67728a"/>
<path d="M438.5,499 L438.5,493 Q438.5,491.5 440.5,491.5 L459.5,491.5 Q461.5,491.5 461.5,493 L461.5,499 Z" fill="#adb6c4"/>
<rect x="440.5" y="497" width="19" height="2" fill="#98a2b2"/>
<rect x="467.5" y="490.5" width="27" height="8.5" fill="#67728a"/>
<path d="M469.5,499 L469.5,493 Q469.5,491.5 471.5,491.5 L490.5,491.5 Q492.5,491.5 492.5,493 L492.5,499 Z" fill="#adb6c4"/>
<rect x="471.5" y="497" width="19" height="2" fill="#98a2b2"/>
<rect x="498.5" y="490.5" width="27" height="8.5" fill="#67728a"/>
<path d="M500.5,499 L500.5,493 Q500.5,491.5 502.5,491.5 L521.5,491.5 Q523.5,491.5 523.5,493 L523.5,499 Z" fill="#adb6c4"/>
<rect x="502.5" y="497" width="19" height="2" fill="#98a2b2"/>
<rect x="529.5" y="490.5" width="27" height="8.5" fill="#67728a"/>
<path d="M531.5,499 L531.5,493 Q531.5,491.5 533.5,491.5 L552.5,491.5 Q554.5,491.5 554.5,493 L554.5,499 Z" fill="#adb6c4"/>
<rect x="533.5" y="497" width="19" height="2" fill="#98a2b2"/>
<rect x="560.5" y="490.5" width="27" height="8.5" fill="#67728a"/>
<path d="M562.5,499 L562.5,493 Q562.5,491.5 564.5,491.5 L583.5,491.5 Q585.5,491.5 585.5,493 L585.5,499 Z" fill="#adb6c4"/>
<rect x="564.5" y="497" width="19" height="2" fill="#98a2b2"/>
<rect x="591.5" y="490.5" width="27" height="8.5" fill="#67728a"/>
<path d="M593.5,499 L593.5,493 Q593.5,491.5 595.5,491.5 L614.5,491.5 Q616.5,491.5 616.5,493 L616.5,499 Z" fill="#adb6c4"/>
<rect x="595.5" y="497" width="19" height="2" fill="#98a2b2"/>
<rect x="622.5" y="490.5" width="27" height="8.5" fill="#67728a"/>
<path d="M624.5,499 L624.5,493 Q624.5,491.5 626.5,491.5 L645.5,491.5 Q647.5,491.5 647.5,493 L647.5,499 Z" fill="#adb6c4"/>
<rect x="626.5" y="497" width="19" height="2" fill="#98a2b2"/>
<rect x="653.5" y="490.5" width="27" height="8.5" fill="#67728a"/>
<path d="M655.5,499 L655.5,493 Q655.5,491.5 657.5,491.5 L676.5,491.5 Q678.5,491.5 678.5,493 L678.5,499 Z" fill="#adb6c4"/>
<rect x="657.5" y="497" width="19" height="2" fill="#98a2b2"/>
<rect x="430" y="502.5" width="251" height="10.5" fill="#768196"/>
<rect x="433.5" y="504.0" width="27" height="8.0" fill="#67728a"/>
<path d="M435.5,512.0 L435.5,506.5 Q435.5,505.0 437.5,505.0 L456.5,505.0 Q458.5,505.0 458.5,506.5 L458.5,512.0 Z" fill="#adb6c4"/>
<rect x="437.5" y="510.0" width="19" height="2" fill="#98a2b2"/>
<rect x="464.5" y="504.0" width="27" height="8.0" fill="#67728a"/>
<path d="M466.5,512.0 L466.5,506.5 Q466.5,505.0 468.5,505.0 L487.5,505.0 Q489.5,505.0 489.5,506.5 L489.5,512.0 Z" fill="#adb6c4"/>
<rect x="468.5" y="510.0" width="19" height="2" fill="#98a2b2"/>
<rect x="495.5" y="504.0" width="27" height="8.0" fill="#67728a"/>
<path d="M497.5,512.0 L497.5,506.5 Q497.5,505.0 499.5,505.0 L518.5,505.0 Q520.5,505.0 520.5,506.5 L520.5,512.0 Z" fill="#adb6c4"/>
<rect x="499.5" y="510.0" width="19" height="2" fill="#98a2b2"/>
<rect x="526.5" y="504.0" width="27" height="8.0" fill="#67728a"/>
<path d="M528.5,512.0 L528.5,506.5 Q528.5,505.0 530.5,505.0 L549.5,505.0 Q551.5,505.0 551.5,506.5 L551.5,512.0 Z" fill="#adb6c4"/>
<rect x="530.5" y="510.0" width="19" height="2" fill="#98a2b2"/>
<rect x="557.5" y="504.0" width="27" height="8.0" fill="#67728a"/>
<path d="M559.5,512.0 L559.5,506.5 Q559.5,505.0 561.5,505.0 L580.5,505.0 Q582.5,505.0 582.5,506.5 L582.5,512.0 Z" fill="#adb6c4"/>
<rect x="561.5" y="510.0" width="19" height="2" fill="#98a2b2"/>
<rect x="588.5" y="504.0" width="27" height="8.0" fill="#67728a"/>
<path d="M590.5,512.0 L590.5,506.5 Q590.5,505.0 592.5,505.0 L611.5,505.0 Q613.5,505.0 613.5,506.5 L613.5,512.0 Z" fill="#adb6c4"/>
<rect x="592.5" y="510.0" width="19" height="2" fill="#98a2b2"/>
<rect x="619.5" y="504.0" width="27" height="8.0" fill="#67728a"/>
<path d="M621.5,512.0 L621.5,506.5 Q621.5,505.0 623.5,505.0 L642.5,505.0 Q644.5,505.0 644.5,506.5 L644.5,512.0 Z" fill="#adb6c4"/>
<rect x="623.5" y="510.0" width="19" height="2" fill="#98a2b2"/>
<rect x="650.5" y="504.0" width="27" height="8.0" fill="#67728a"/>
<path d="M652.5,512.0 L652.5,506.5 Q652.5,505.0 654.5,505.0 L673.5,505.0 Q675.5,505.0 675.5,506.5 L675.5,512.0 Z" fill="#adb6c4"/>
<rect x="654.5" y="510.0" width="19" height="2" fill="#98a2b2"/>
<rect x="430" y="512.5" width="251" height="1.5" fill="#7c879b"/>
<rect x="460.5" y="514" width="1.2" height="36" fill="#848fa3"/>
<rect x="555.8" y="514" width="1.2" height="36" fill="#848fa3"/>
<rect x="588" y="514" width="1.2" height="36" fill="#848fa3"/>
<rect x="590" y="514" width="28" height="36" fill="url(#cyl)"/>
<rect x="622" y="514" width="26.5" height="36" fill="url(#cyl)"/>
<rect x="653" y="514" width="24" height="36" fill="url(#cyl)"/>
<rect x="423" y="549.5" width="265" height="29" fill="#a3acbb"/>
<rect x="425" y="550.5" width="261" height="10" fill="#525b6e"/>
<rect x="427" y="551" width="1" height="9" fill="#6c7588"/>
<rect x="430" y="551" width="1" height="9" fill="#6c7588"/>
<rect x="433" y="551" width="1" height="9" fill="#6c7588"/>
<rect x="436" y="551" width="1" height="9" fill="#6c7588"/>
<rect x="439" y="551" width="1" height="9" fill="#6c7588"/>
<rect x="442" y="551" width="1" height="9" fill="#6c7588"/>
<rect x="445" y="551" width="1" height="9" fill="#6c7588"/>
<rect x="448" y="551" width="1" height="9" fill="#6c7588"/>
<rect x="451" y="551" width="1" height="9" fill="#6c7588"/>
<rect x="454" y="551" width="1" height="9" fill="#6c7588"/>
<rect x="457" y="551" width="1" height="9" fill="#6c7588"/>
<rect x="460" y="551" width="1" height="9" fill="#6c7588"/>
<rect x="463" y="551" width="1" height="9" fill="#6c7588"/>
<rect x="466" y="551" width="1" height="9" fill="#6c7588"/>
<rect x="469" y="551" width="1" height="9" fill="#6c7588"/>
<rect x="472" y="551" width="1" height="9" fill="#6c7588"/>
<rect x="475" y="551" width="1" height="9" fill="#6c7588"/>
<rect x="478" y="551" width="1" height="9" fill="#6c7588"/>
<rect x="481" y="551" width="1" height="9" fill="#6c7588"/>
<rect x="484" y="551" width="1" height="9" fill="#6c7588"/>
<rect x="487" y="551" width="1" height="9" fill="#6c7588"/>
<rect x="490" y="551" width="1" height="9" fill="#6c7588"/>
<rect x="493" y="551" width="1" height="9" fill="#6c7588"/>
<rect x="496" y="551" width="1" height="9" fill="#6c7588"/>
<rect x="499" y="551" width="1" height="9" fill="#6c7588"/>
<rect x="502" y="551" width="1" height="9" fill="#6c7588"/>
<rect x="505" y="551" width="1" height="9" fill="#6c7588"/>
<rect x="508" y="551" width="1" height="9" fill="#6c7588"/>
<rect x="511" y="551" width="1" height="9" fill="#6c7588"/>
<rect x="514" y="551" width="1" height="9" fill="#6c7588"/>
<rect x="517" y="551" width="1" height="9" fill="#6c7588"/>
<rect x="520" y="551" width="1" height="9" fill="#6c7588"/>
<rect x="523" y="551" width="1" height="9" fill="#6c7588"/>
<rect x="526" y="551" width="1" height="9" fill="#6c7588"/>
<rect x="529" y="551" width="1" height="9" fill="#6c7588"/>
<rect x="532" y="551" width="1" height="9" fill="#6c7588"/>
<rect x="535" y="551" width="1" height="9" fill="#6c7588"/>
<rect x="538" y="551" width="1" height="9" fill="#6c7588"/>
<rect x="541" y="551" width="1" height="9" fill="#6c7588"/>
<rect x="544" y="551" width="1" height="9" fill="#6c7588"/>
<rect x="547" y="551" width="1" height="9" fill="#6c7588"/>
<rect x="550" y="551" width="1" height="9" fill="#6c7588"/>
<rect x="553" y="551" width="1" height="9" fill="#6c7588"/>
<rect x="556" y="551" width="1" height="9" fill="#6c7588"/>
<rect x="559" y="551" width="1" height="9" fill="#6c7588"/>
<rect x="562" y="551" width="1" height="9" fill="#6c7588"/>
<rect x="565" y="551" width="1" height="9" fill="#6c7588"/>
<rect x="568" y="551" width="1" height="9" fill="#6c7588"/>
<rect x="571" y="551" width="1" height="9" fill="#6c7588"/>
<rect x="574" y="551" width="1" height="9" fill="#6c7588"/>
<rect x="577" y="551" width="1" height="9" fill="#6c7588"/>
<rect x="580" y="551" width="1" height="9" fill="#6c7588"/>
<rect x="583" y="551" width="1" height="9" fill="#6c7588"/>
<rect x="586" y="551" width="1" height="9" fill="#6c7588"/>
<rect x="589" y="551" width="1" height="9" fill="#6c7588"/>
<rect x="592" y="551" width="1" height="9" fill="#6c7588"/>
<rect x="595" y="551" width="1" height="9" fill="#6c7588"/>
<rect x="598" y="551" width="1" height="9" fill="#6c7588"/>
<rect x="601" y="551" width="1" height="9" fill="#6c7588"/>
<rect x="604" y="551" width="1" height="9" fill="#6c7588"/>
<rect x="607" y="551" width="1" height="9" fill="#6c7588"/>
<rect x="610" y="551" width="1" height="9" fill="#6c7588"/>
<rect x="613" y="551" width="1" height="9" fill="#6c7588"/>
<rect x="616" y="551" width="1" height="9" fill="#6c7588"/>
<rect x="619" y="551" width="1" height="9" fill="#6c7588"/>
<rect x="622" y="551" width="1" height="9" fill="#6c7588"/>
<rect x="625" y="551" width="1" height="9" fill="#6c7588"/>
<rect x="628" y="551" width="1" height="9" fill="#6c7588"/>
<rect x="631" y="551" width="1" height="9" fill="#6c7588"/>
<rect x="634" y="551" width="1" height="9" fill="#6c7588"/>
<rect x="637" y="551" width="1" height="9" fill="#6c7588"/>
<rect x="640" y="551" width="1" height="9" fill="#6c7588"/>
<rect x="643" y="551" width="1" height="9" fill="#6c7588"/>
<rect x="646" y="551" width="1" height="9" fill="#6c7588"/>
<rect x="649" y="551" width="1" height="9" fill="#6c7588"/>
<rect x="652" y="551" width="1" height="9" fill="#6c7588"/>
<rect x="655" y="551" width="1" height="9" fill="#6c7588"/>
<rect x="658" y="551" width="1" height="9" fill="#6c7588"/>
<rect x="661" y="551" width="1" height="9" fill="#6c7588"/>
<rect x="664" y="551" width="1" height="9" fill="#6c7588"/>
<rect x="667" y="551" width="1" height="9" fill="#6c7588"/>
<rect x="670" y="551" width="1" height="9" fill="#6c7588"/>
<rect x="673" y="551" width="1" height="9" fill="#6c7588"/>
<rect x="676" y="551" width="1" height="9" fill="#6c7588"/>
<rect x="679" y="551" width="1" height="9" fill="#6c7588"/>
<rect x="682" y="551" width="1" height="9" fill="#6c7588"/>
<rect x="685" y="551" width="1" height="9" fill="#6c7588"/>
<rect x="425" y="561" width="261" height="4.5" fill="#a9b2c0"/>
<rect x="425" y="566" width="261" height="8.5" fill="#6c7587"/>
<rect x="425" y="574.5" width="261" height="3" fill="#98a1b1"/>
<rect x="423" y="549" width="4.5" height="38.5" fill="#9ca6b5"/>
<rect x="475" y="549" width="4.5" height="38.5" fill="#9ca6b5"/>
<rect x="632" y="549" width="4.5" height="38.5" fill="#9ca6b5"/>
<rect x="684" y="549" width="4.5" height="38.5" fill="#9ca6b5"/>
<rect x="495.5" y="492" width="38" height="110" fill="url(#col)"/>
<ellipse cx="514.5" cy="492" rx="19" ry="3.5" fill="#c9cfd8"/>
<rect x="511.5" y="486" width="8" height="6" rx="2" fill="#b8c0cb"/>
<rect x="512" y="505" width="3" height="4" fill="#8a94a4"/>
<rect x="512" y="525" width="3" height="4" fill="#8a94a4"/>
<rect x="512" y="545" width="3" height="4" fill="#8a94a4"/>
<rect x="512" y="565" width="3" height="4" fill="#8a94a4"/>
<rect x="512" y="585" width="3" height="4" fill="#8a94a4"/>
<rect x="495" y="589" width="39" height="10" fill="#1c2028"/>
<rect x="567.6" y="551" width="31.600000000000023" height="48" fill="none" stroke="#163636" stroke-width="2.2"/>
<rect x="567.6" y="568.7" width="31.600000000000023" height="2" fill="#163636"/>
<rect x="569.6" y="586.5" width="23.600000000000023" height="7" fill="#b8c0cc"/>
<rect x="552.8" y="591.5" width="46.40000000000009" height="7" fill="#14181c"/>
<rect x="652.4" y="551" width="32.60000000000002" height="48" fill="none" stroke="#163636" stroke-width="2.2"/>
<rect x="652.4" y="568.7" width="32.60000000000002" height="2" fill="#163636"/>
<rect x="654.4" y="586.5" width="24.600000000000023" height="7" fill="#b8c0cc"/>
<rect x="634.7" y="591.5" width="50.299999999999955" height="7" fill="#14181c"/>
<rect x="118.3" y="547" width="233.4" height="34.8" fill="#1f6cb0" stroke="#0a2038" stroke-width="1.8" opacity="0.9"/>
<text x="126.3" y="574" font-size="24.5" fill="none" stroke="#9cb6d2" stroke-width="1.8" textLength="218" lengthAdjust="spacingAndGlyphs" stroke-linejoin="round">Contaminated Water</text>
<text x="126.3" y="574" font-size="24.5" fill="#2e3c4e" stroke="#1a2230" stroke-width="0.5" textLength="218" lengthAdjust="spacingAndGlyphs">Contaminated Water</text>
<rect x="792" y="545.8" width="185.5" height="34.9" fill="#1aaac8" stroke="#0a2038" stroke-width="1.8" opacity="0.9"/>
<text x="798.4" y="574" font-size="24" fill="none" stroke="#0a1c28" stroke-width="2.8" textLength="171.6" lengthAdjust="spacingAndGlyphs" stroke-linejoin="round">Purified Water</text>
<text x="798.4" y="574" font-size="24" fill="#d2d6da" stroke="#d2d6da" stroke-width="0.4" textLength="171.6" lengthAdjust="spacingAndGlyphs">Purified Water</text>
<text x="18.6" y="60.5" font-size="22.8" font-weight="normal" fill="#1d2427" stroke="#1d2427" stroke-width="0.35" textLength="173.2" lengthAdjust="spacingAndGlyphs" >Reactor Cooling</text>
<text x="18.6" y="81.3" font-size="22.8" font-weight="normal" fill="#1d2427" stroke="#1d2427" stroke-width="0.35" textLength="196.8" lengthAdjust="spacingAndGlyphs" >by Water Injection</text>
<text x="63.5" y="410" font-size="24.2" font-weight="normal" fill="#1d2427" stroke="#1d2427" stroke-width="0.35" textLength="186.7" lengthAdjust="spacingAndGlyphs" >Stored in Tanks</text>
<text x="409.8" y="453.8" font-size="20" font-weight="normal" fill="#262c30" stroke="#262c30" stroke-width="0.25" textLength="116.7" lengthAdjust="spacingAndGlyphs" >Multi-Nuclide</text>
<text x="409.8" y="473.4" font-size="19.6" font-weight="normal" fill="#262c30" stroke="#262c30" stroke-width="0.25" textLength="286.8" lengthAdjust="spacingAndGlyphs" >Removal Equipment (ALPS) etc.</text>
<text x="778" y="344.8" font-size="23.8" font-weight="normal" fill="#111" stroke="#111" stroke-width="0.5" textLength="209" lengthAdjust="spacingAndGlyphs" >Cesium Absorbing</text>
<text x="778" y="365.6" font-size="23.8" font-weight="normal" fill="#111" stroke="#111" stroke-width="0.5" textLength="123" lengthAdjust="spacingAndGlyphs" >Device etc.</text>
<g style="filter:blur(1.2px)" opacity="0.9">
<text x="133" y="278" font-size="22" font-weight="bold" fill="#0a3a80" stroke="#0a3a80" stroke-width="2" textLength="80" lengthAdjust="spacingAndGlyphs" >Ground</text>
<text x="139" y="296" font-size="22" font-weight="bold" fill="#0a3a80" stroke="#0a3a80" stroke-width="2" textLength="69" lengthAdjust="spacingAndGlyphs" >-water</text>
</g>
<text x="132" y="276.6" font-size="22" font-weight="bold" fill="#ffffff" textLength="80" lengthAdjust="spacingAndGlyphs" >Ground</text>
<text x="138" y="294" font-size="22" font-weight="bold" fill="#ffffff" textLength="69" lengthAdjust="spacingAndGlyphs" >-water</text>
</svg>
</body></html>
